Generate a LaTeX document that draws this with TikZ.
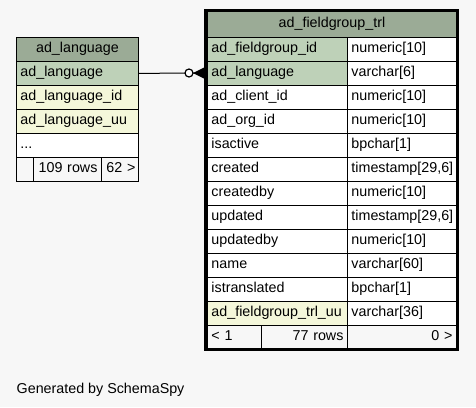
\documentclass[tikz,border=0pt]{standalone}
\usepackage{fontspec}
\setmainfont{Liberation Sans}
\usetikzlibrary{fit}
\definecolor{bgc}{HTML}{F7F7F7}
\definecolor{hdrc}{HTML}{9BAB96}
\definecolor{pkc}{HTML}{BED1B8}
\definecolor{idxc}{HTML}{F4F7DA}
\begin{document}
\begin{tikzpicture}[x=1pt,y=-1pt,
  cellbox/.style={draw=black, line width=0.9pt, anchor=north west, minimum height=24pt,
    inner xsep=4pt, inner ysep=0pt, text height=10pt, text depth=3pt, align=left,
    font=\fontsize{14.3}{16}\selectfont},
  hdrbox/.style={cellbox, fill=hdrc, align=center},
  pkbox/.style={cellbox, fill=pkc},
  idxbox/.style={cellbox, fill=idxc},
  plainbox/.style={cellbox, fill=white},
  footbox/.style={cellbox, fill=bgc},
  rfootbox/.style={cellbox, fill=bgc, align=right},
  relline/.style={draw=black, line width=1pt}
]
\fill[bgc] (0,0) rectangle (476,407);
\useasboundingbox (0,0) rectangle (476,407);

% left table: ad_language
\node[hdrbox, text width=114pt] (lth) at (16,37) {ad\_language};
\node[pkbox, text width=114pt] (lt1) at (16,61) {ad\_language};
\node[idxbox, text width=114pt] (lt2) at (16,85) {ad\_language\_id};
\node[idxbox, text width=114pt] (lt3) at (16,109) {ad\_language\_uu};
\node[plainbox, text width=114pt] (lt4) at (16,133) {...};
\node[footbox, text width=9pt] (ltf1) at (16,157) {};
\node[rfootbox, text width=60pt] (ltf2) at (33,157) {109 rows};
\node[rfootbox, inner xsep=3pt, text width=31pt] (ltf3) at (101,157) {\mbox{62 >}};

% right table: ad_fieldgroup_trl
\node[hdrbox, minimum height=26pt, text width=241pt] (rth) at (207,11) {ad\_fieldgroup\_trl};
\node[pkbox, text width=132pt] (r1n) at (207,37) {ad\_fieldgroup\_id};
\node[plainbox, text width=101pt] (r1t) at (347,37) {numeric[10]};
\node[pkbox, text width=132pt] (r2n) at (207,61) {ad\_language};
\node[plainbox, text width=101pt] (r2t) at (347,61) {varchar[6]};
\node[plainbox, text width=132pt] (r3n) at (207,85) {ad\_client\_id};
\node[plainbox, text width=101pt] (r3t) at (347,85) {numeric[10]};
\node[plainbox, text width=132pt] (r4n) at (207,109) {ad\_org\_id};
\node[plainbox, text width=101pt] (r4t) at (347,109) {numeric[10]};
\node[plainbox, text width=132pt] (r5n) at (207,133) {isactive};
\node[plainbox, text width=101pt] (r5t) at (347,133) {bpchar[1]};
\node[plainbox, text width=132pt] (r6n) at (207,157) {created};
\node[plainbox, text width=101pt] (r6t) at (347,157) {timestamp[29,6]};
\node[plainbox, text width=132pt] (r7n) at (207,181) {createdby};
\node[plainbox, text width=101pt] (r7t) at (347,181) {numeric[10]};
\node[plainbox, text width=132pt] (r8n) at (207,205) {updated};
\node[plainbox, text width=101pt] (r8t) at (347,205) {timestamp[29,6]};
\node[plainbox, text width=132pt] (r9n) at (207,229) {updatedby};
\node[plainbox, text width=101pt] (r9t) at (347,229) {numeric[10]};
\node[plainbox, text width=132pt] (r10n) at (207,253) {name};
\node[plainbox, text width=101pt] (r10t) at (347,253) {varchar[60]};
\node[plainbox, text width=132pt] (r11n) at (207,277) {istranslated};
\node[plainbox, text width=101pt] (r11t) at (347,277) {bpchar[1]};
\node[idxbox, text width=132pt] (r12n) at (207,301) {ad\_fieldgroup\_trl\_uu};
\node[plainbox, text width=101pt] (r12t) at (347,301) {varchar[36]};
\node[footbox, text width=46pt] (rtf1) at (207,325) {< 1};
\node[rfootbox, text width=78pt] (rtf2) at (261,325) {77 rows};
\node[rfootbox, text width=101pt] (rtf3) at (347,325) {0 >};
\draw[line width=3pt] (205.5,10) rectangle (457.5,349.5);

% relationship
\coordinate (ocirc) at (189,73);
\coordinate (crowtip) at (193,73);
\draw[relline] (lt1.east) -- (185,73);
\draw[line width=1.2pt, fill=white] (ocirc) circle (4pt);
\fill[black] (crowtip) -- (204,67.5) -- (204,78.5) -- cycle;
\draw[relline] (crowtip) -- (r2n.west);

\node[anchor=base west, inner sep=0pt, font=\fontsize{14.3}{16}\selectfont] (gen) at (16.5,393.3) {Generated by SchemaSpy};
\end{tikzpicture}
\end{document}
